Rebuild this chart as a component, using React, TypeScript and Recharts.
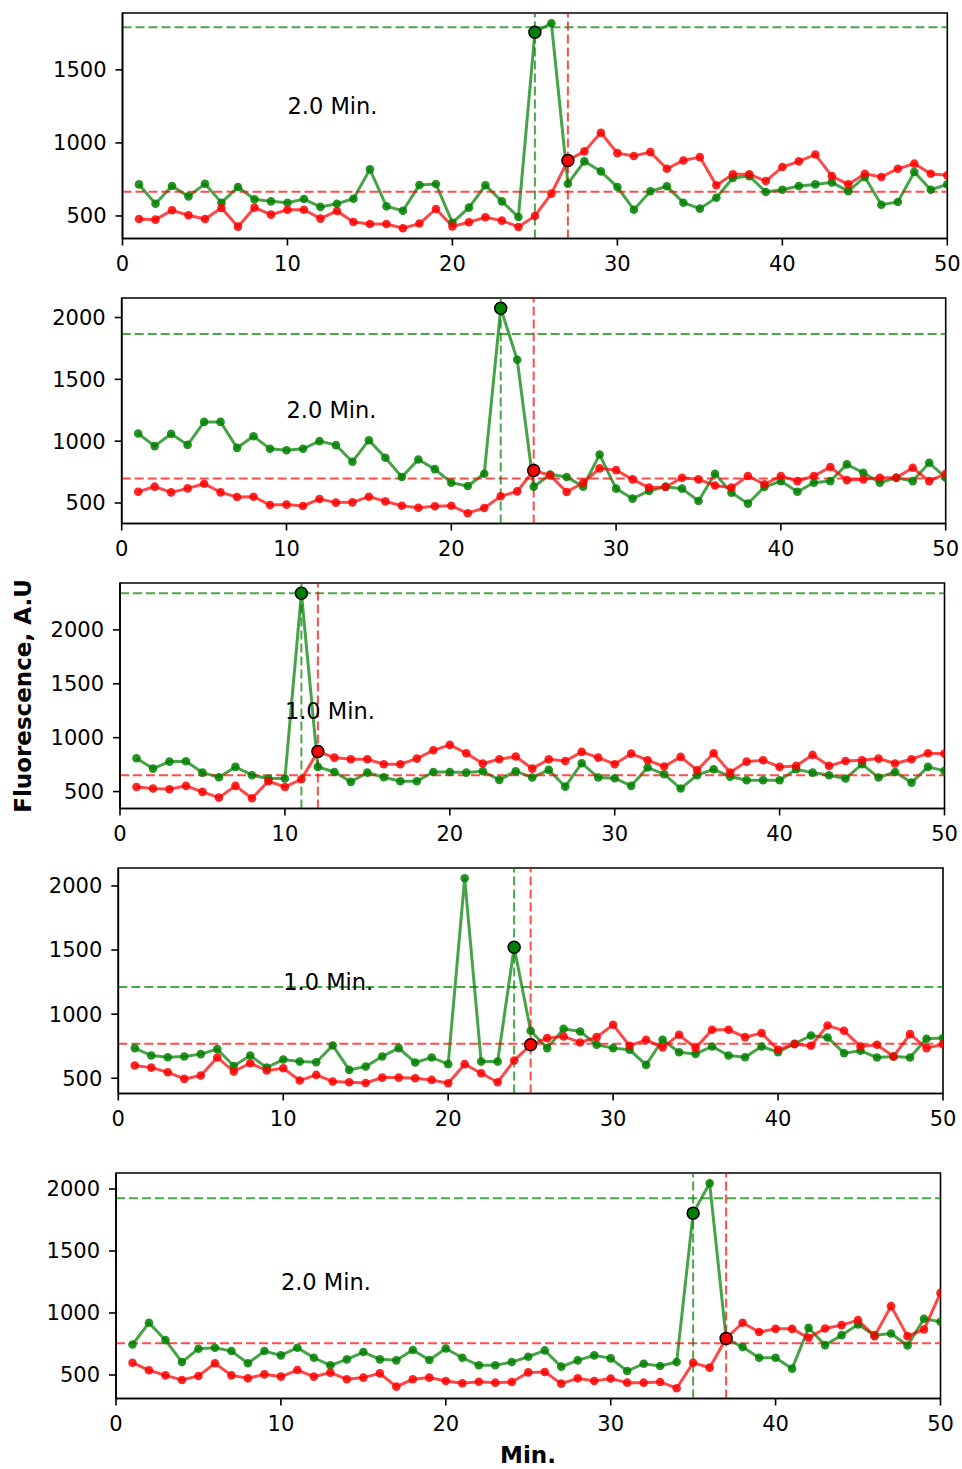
import React from 'react'
import { LineChart, Line, XAxis, YAxis, ReferenceLine, ReferenceDot, ReferenceArea } from 'recharts'

const FONT = '"DejaVu Sans", sans-serif'
const GREEN = '#008000'
const RED = '#ff0000'

// sample index along x (1..50)
const SAMPLES = Array.from({ length: 50 }, (_, i) => i + 1)
const X_TICKS = [0, 10, 20, 30, 40, 50]

// channel values (top to bottom)
const G1 = [716, 584, 705, 634, 721, 591, 698, 614, 600, 591, 616, 562, 584, 618, 819, 566, 536, 712, 719, 454, 557, 710, 600, 493, 1757,
  1819, 721, 874, 805, 698, 543, 669, 703, 591, 550, 625, 760, 773, 664, 680, 705, 716, 730, 669, 767, 577, 596, 801, 680, 716]
const R1 = [479, 475, 539, 505, 479, 555, 427, 557, 509, 543, 543, 482, 534, 459, 445, 445, 416, 448, 548, 429, 457, 491, 468, 425, 500,
  653, 880, 942, 1070, 930, 910, 937, 823, 880, 903, 710, 785, 785, 739, 835, 874, 921, 773, 716, 789, 767, 823, 858, 789, 778]

const G2 = [1062, 960, 1059, 970, 1156, 1156, 946, 1040, 938, 927, 938, 1000, 968, 833, 1008, 866, 710, 852, 774, 664, 637, 737, 2075, 1658, 632,
  731, 710, 632, 892, 616, 535, 597, 632, 616, 516, 737, 583, 495, 629, 677, 591, 664, 677, 812, 745, 664, 704, 677, 825, 704]
const R2 = [591, 632, 586, 618, 656, 586, 548, 551, 484, 487, 476, 532, 503, 505, 551, 513, 478, 462, 473, 478, 417, 460, 554, 594, 763,
  723, 589, 664, 780, 766, 691, 624, 629, 704, 691, 642, 624, 718, 651, 718, 677, 718, 791, 685, 691, 704, 704, 785, 677, 737]

const G3 = [809, 713, 778, 781, 676, 633, 729, 652, 621, 621, 2340, 729, 682, 590, 676, 633, 596, 596, 682, 682, 676, 689, 608, 689, 630,
  701, 546, 763, 630, 624, 553, 723, 661, 528, 652, 707, 639, 605, 605, 605, 707, 676, 652, 621, 754, 630, 682, 583, 729, 692]
const R3 = [543, 528, 522, 553, 497, 444, 553, 438, 596, 543, 614, 871, 815, 800, 800, 754, 754, 806, 883, 933, 856, 760, 800, 825, 713,
  800, 784, 868, 815, 754, 852, 791, 732, 822, 698, 856, 676, 778, 791, 729, 738, 840, 738, 784, 791, 806, 760, 800, 856, 852]

const G4 = [735, 677, 664, 670, 688, 727, 596, 677, 583, 646, 630, 625, 756, 565, 591, 670, 735, 623, 662, 610, 2060, 630, 630, 1522, 870,
  735, 886, 865, 761, 735, 722, 604, 800, 703, 690, 748, 677, 664, 748, 703, 769, 834, 818, 696, 714, 662, 670, 662, 808, 813]
const R4 = [599, 583, 547, 495, 521, 662, 552, 617, 560, 578, 482, 526, 474, 469, 463, 505, 505, 500, 487, 461, 610, 539, 469, 638, 761,
  813, 826, 779, 821, 917, 753, 800, 740, 839, 735, 878, 878, 821, 852, 722, 766, 753, 912, 870, 748, 761, 670, 844, 735, 766]

const G5 = [746, 921, 781, 604, 712, 720, 693, 594, 693, 658, 720, 639, 578, 626, 685, 626, 618, 701, 621, 714, 639, 578, 578, 604, 647,
  698, 567, 618, 658, 634, 532, 591, 572, 604, 1805, 2046, 795, 725, 639, 639, 551, 880, 741, 821, 907, 821, 835, 738, 953, 929]
const R5 = [599, 538, 497, 460, 492, 594, 497, 473, 505, 487, 540, 487, 519, 465, 479, 513, 406, 465, 479, 452, 433, 446, 438, 444, 521,
  524, 430, 473, 452, 471, 438, 438, 444, 393, 599, 559, 795, 921, 846, 872, 872, 800, 875, 902, 942, 813, 1055, 813, 867, 1162]

const GREEN_SERIES = [G1, G2, G3, G4, G5]
const RED_SERIES = [R1, R2, R3, R4, R5]

// thresholds (dashed horizontals) and detection points (dashed verticals)
const GREEN_LEVEL = [1792, 1866, 2340, 1212, 1925]
const RED_LEVEL = [666, 699, 652, 769, 755]
const GREEN_HIT = [25, 23, 11, 24, 35]
const RED_HIT = [27, 25, 12, 25, 37]
const LABELS = ['2.0 Min.', '2.0 Min.', '1.0 Min.', '1.0 Min.', '2.0 Min.']
const LABEL_X = 10
const LABEL_Y = 1250

const Y_TICKS = [
  [500, 1000, 1500],
  [500, 1000, 1500, 2000],
  [500, 1000, 1500, 2000],
  [500, 1000, 1500, 2000],
  [500, 1000, 1500, 2000],
]

// layout of each plot box in page pixels
const BOX_LEFT = [122.5, 121.7, 120, 118.3, 116]
const BOX_RIGHT = [947.3, 945.7, 944.5, 943, 940.5]
const BOX_TOP = [12.7, 298.3, 583.3, 868.3, 1173.3]
const BOX_H = 225.5

const tick = { fill: '#000', fontSize: 21, fontFamily: FONT }

function Panel({ i }: { i: number }) {
  const g = GREEN_SERIES[i]
  const r = RED_SERIES[i]
  const data = SAMPLES.map((x, k) => ({ x, g: g[k], r: r[k] }))
  // matplotlib-like 5% margins
  const lo = Math.min(...g, ...r)
  const hi = Math.max(...g, ...r)
  const pad = (hi - lo) * 0.05
  const yMin = lo - pad
  const yMax = hi + pad
  const YW = 70, XH = 60, MT = 10
  const label = LABELS[i]
  return (
    <div style={{ position: 'absolute', left: 0, top: BOX_TOP[i] - MT }}>
      <LineChart width={962} height={MT + BOX_H + XH} data={data}
        margin={{ top: MT, right: 962 - BOX_RIGHT[i], bottom: 0, left: BOX_LEFT[i] - YW }}>
        <XAxis dataKey="x" type="number" domain={[0, 50]} ticks={X_TICKS} allowDataOverflow height={XH}
          tick={tick} tickSize={7} tickMargin={11} stroke="#000" strokeWidth={1.6} />
        <YAxis type="number" domain={[yMin, yMax]} ticks={Y_TICKS[i]} allowDataOverflow width={YW}
          tick={tick} tickSize={7} tickMargin={9} stroke="#000" strokeWidth={1.6} />
        <ReferenceDot x={LABEL_X} y={LABEL_Y} r={0} isFront={false}
          shape={(p: any) => (
            <text x={p.cx} y={p.cy} dominantBaseline="central" fontSize={22.5} fontFamily={FONT} fill="#000">{label}</text>
          )} />
        <Line dataKey="g" stroke={GREEN} strokeOpacity={0.72} strokeWidth={3}
          dot={{ r: 4.3, fill: GREEN, fillOpacity: 0.85, stroke: 'none' }} activeDot={false} isAnimationActive={false} />
        <Line dataKey="r" stroke={RED} strokeOpacity={0.72} strokeWidth={3}
          dot={{ r: 4.3, fill: RED, fillOpacity: 0.85, stroke: 'none' }} activeDot={false} isAnimationActive={false} />
        <ReferenceLine y={GREEN_LEVEL[i]} stroke={GREEN} strokeOpacity={0.7} strokeWidth={2} strokeDasharray="9 4" />
        <ReferenceLine y={RED_LEVEL[i]} stroke={RED} strokeOpacity={0.7} strokeWidth={2} strokeDasharray="9 4" />
        <ReferenceLine x={GREEN_HIT[i]} stroke={GREEN} strokeOpacity={0.7} strokeWidth={2} strokeDasharray="9 4" />
        <ReferenceLine x={RED_HIT[i]} stroke={RED} strokeOpacity={0.7} strokeWidth={2} strokeDasharray="9 4" />
        <ReferenceDot x={GREEN_HIT[i]} y={g[GREEN_HIT[i] - 1]} r={6} fill={GREEN} stroke="#000" strokeWidth={1.5} />
        <ReferenceDot x={RED_HIT[i]} y={r[RED_HIT[i] - 1]} r={6} fill={RED} stroke="#000" strokeWidth={1.5} />
        <ReferenceArea x1={0} x2={50} y1={yMin} y2={yMax} fill="none" stroke="#000" strokeWidth={1.6} />
      </LineChart>
    </div>
  )
}

export default function App() {
  return (
    <div style={{ position: 'absolute', left: 0, top: 0, width: 962, height: 1469, background: '#fff', fontFamily: FONT }}>
      {[0, 1, 2, 3, 4].map((i) => <Panel key={i} i={i} />)}
      <svg width={962} height={1469} style={{ position: 'absolute', left: 0, top: 0, pointerEvents: 'none' }}>
        <text x={23} y={696} transform="rotate(-90, 23, 696)" textAnchor="middle" dominantBaseline="central"
          fontSize={23} fontWeight="bold" fontFamily={FONT} fill="#000">Fluorescence, A.U</text>
        <text x={528} y={1463} textAnchor="middle" fontSize={23} fontWeight="bold" fontFamily={FONT} fill="#000">Min.</text>
      </svg>
    </div>
  )
}
